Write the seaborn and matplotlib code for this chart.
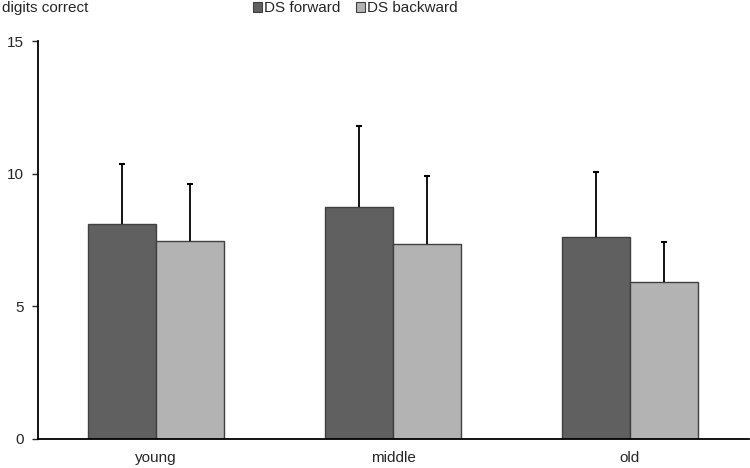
import pandas as pd
import seaborn as sns
import matplotlib.pyplot as plt

# data
groups = ['young', 'middle', 'old']
series = ['DS forward', 'DS backward']
ds_forward = [8.10, 8.74, 7.60]
ds_backward = [7.47, 7.36, 5.91]
sd_forward = [2.28, 3.06, 2.46]
sd_backward = [2.13, 2.56, 1.53]
yticks = [0, 5, 10, 15]

df = pd.DataFrame({
    'group': groups * 2,
    'measure': [series[0]] * 3 + [series[1]] * 3,
    'value': ds_forward + ds_backward,
    'sd': sd_forward + sd_backward,
})

sns.set_style('white')
plt.rcParams['font.family'] = ['Liberation Sans', 'DejaVu Sans']

fig = plt.figure(figsize=(7.5, 4.68), dpi=100)
ax = fig.add_axes([0.05, 0.062, 0.948, 0.85])

sns.barplot(data=df, x='group', y='value', hue='measure', order=groups,
            hue_order=series, palette=['#606060', '#b3b3b3'], width=0.575,
            errorbar=None, edgecolor='#404040', linewidth=1.0, ax=ax,
            legend=False, zorder=2)

# upward-only error bars with a cap at the top only
for bar, (_, row) in zip(ax.patches, df.iterrows()):
    xc = bar.get_x() + bar.get_width() / 2
    top = row['value'] + row['sd']
    ax.vlines(xc, row['value'], top, color='black', linewidth=1.3, zorder=3)
    ax.plot([xc], [top], marker='_', markersize=4, markeredgewidth=1.5,
            color='black', zorder=3)

ax.set_xlim(-0.5, 2.5)
ax.set_ylim(0, 15)
ax.set_yticks(yticks)
ax.set_xlabel('')
ax.set_ylabel('')
ax.tick_params(axis='y', length=4, width=1, direction='out', labelsize=11, left=True, pad=6)
ax.tick_params(axis='x', length=0, labelsize=11, pad=9)
for s in ['top', 'right']:
    ax.spines[s].set_visible(False)
for s in ['left', 'bottom']:
    ax.spines[s].set_color('black')
    ax.spines[s].set_linewidth(1.3)

fig.text(0.002, 0.982, 'digits correct', fontsize=11, va='center', ha='left')
handles = [plt.Rectangle((0, 0), 1, 1, facecolor=c, edgecolor='#404040', linewidth=0.8)
           for c in ['#606060', '#b3b3b3']]
fig.legend(handles, series, loc='center', bbox_to_anchor=(0.474, 0.982), ncol=2,
           frameon=False, fontsize=11, handlelength=0.6, handleheight=0.6,
           handletextpad=0.15, columnspacing=1.0, borderpad=0)

fig.savefig('out.png', dpi=100)
